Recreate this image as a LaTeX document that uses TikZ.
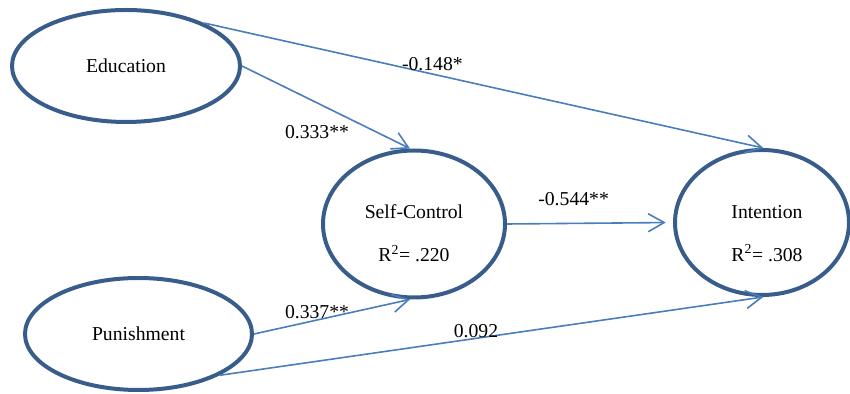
\documentclass[tikz,border=0pt]{standalone}
\usepackage{fontspec}
\setmainfont{Liberation Serif}
\usetikzlibrary{shapes.geometric, arrows.meta}

\begin{document}
\begin{tikzpicture}[
        >={Straight Barb[length=4mm, width=4.5mm]},
        construct/.style={ellipse, draw=ovalcolor, line width=1mm, inner sep=0pt},
        txt/.style={font=\fontsize{14}{17}\selectfont, inner sep=0pt, align=center},
        effect/.style={->, draw=pathcolor, line width=0.4mm}
    ]
    \definecolor{ovalcolor}{RGB}{56, 93, 138}
    \definecolor{pathcolor}{RGB}{74, 126, 187}

    \useasboundingbox (0,0) rectangle (21.25,9.85);

    \node[construct, txt, minimum width=5.7cm, minimum height=2.8cm] (edu) at (3.15, 8.2) {Education};
    \node[construct, txt, minimum width=5.675cm, minimum height=2.8cm] (pun) at (3.4625, 1.5) {Punishment};
    \node[construct, minimum width=4.55cm, minimum height=3.675cm] (sc) at (10.35, 4.25) {};
    \node[construct, minimum width=4.35cm, minimum height=3.625cm] (int) at (19.05, 4.2875) {};
    \node[txt] (sctext) at (10.35, 4.02) {Self-Control\\[13.6pt]R\textsuperscript{2}= .220};
    \node[txt] (inttext) at (19.175, 4.02) {Intention\\[13.6pt]R\textsuperscript{2}= .308};

    \draw[effect] (edu.29) -- (int.89);
    \draw[effect] (edu.east) -- (sc.93);
    \draw[effect, shorten >=1.8mm] (sc.east) -- (int.west);
    \draw[effect] (pun.east) -- (sc.267);
    \draw[effect] (pun.-27) -- (int.271);

    \node[txt] (edutoint) at (10.81, 8.25) {-0.148*};
    \node[txt] (edutosc) at (7.925, 6.55) {0.333**};
    \node[txt] (sctoint) at (14.34, 4.875) {-0.544**};
    \node[txt] (puntosc) at (7.925, 2.05) {0.337**};
    \node[txt] (puntoint) at (11.9, 1.575) {0.092};
\end{tikzpicture}
\end{document}
